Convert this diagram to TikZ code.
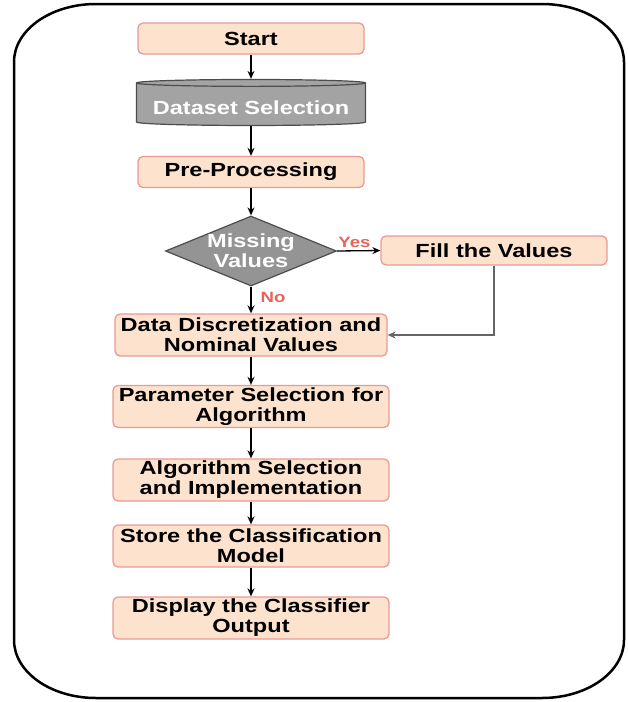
\documentclass[tikz,border=0pt]{standalone}
\usepackage{fontspec}
\setmainfont{Liberation Sans}[FakeStretch=1.24]
\usetikzlibrary{shapes.geometric,arrows.meta}
\definecolor{peach}{HTML}{FDE3CE}
\definecolor{rosy}{HTML}{EA9A96}
\definecolor{drumgray}{HTML}{A3A3A3}
\definecolor{flagred}{HTML}{E8635A}
\tikzset{
  procbox/.style={draw=rosy,fill=peach,line width=1.3pt,rounded corners=5pt,
    align=center,inner sep=0pt,minimum width=276pt,minimum height=42pt,
    font=\bfseries\fontsize{19}{20}\selectfont},
  shortbox/.style={procbox,minimum width=226pt,minimum height=31pt},
  dbdrum/.style={cylinder,shape border rotate=90,aspect=0.035,draw=black!70,
    fill=drumgray,line width=1.2pt,minimum width=229pt,minimum height=46pt,
    inner sep=0pt,text=white,font=\bfseries\fontsize{19}{20}\selectfont},
  decision/.style={diamond,draw=black!70,fill=black!42,line width=1.2pt,
    minimum width=171pt,minimum height=70pt,inner sep=0pt},
  decisiontext/.style={text=white,align=center,inner sep=0pt,
    font=\bfseries\fontsize{19}{20}\selectfont},
  flowarrow/.style={-{Stealth[length=8pt,width=7pt]},line width=1.3pt},
  flag/.style={text=flagred,inner sep=0pt,font=\bfseries\fontsize{15}{16}\selectfont}
}

\begin{document}
\begin{tikzpicture}[x=1pt,y=-1pt]
  \useasboundingbox (0,0) rectangle (628,702);
  \draw[line width=2.5pt] (14,62) arc[start angle=180,end angle=270,x radius=82,y radius=58]
    -- (542,4) arc[start angle=270,end angle=360,x radius=82,y radius=58]
    -- (624,640) arc[start angle=0,end angle=90,x radius=82,y radius=58]
    -- (96,698) arc[start angle=90,end angle=180,x radius=82,y radius=58] -- cycle;

  \node[shortbox] (start) at (251,38.5) {Start};
  \node[dbdrum] (dataset) at (251,104.5) {\raisebox{-3.5pt}[\height][\depth]{Dataset Selection}};
  \node[shortbox] (preproc) at (251,172) {Pre-Processing};
  \node[decision] (missing) at (251,251) {};
  \node[decisiontext] (missingtxt) at (missing) {Missing\\Values};
  \node[shortbox,minimum height=29pt] (fill) at (494,250.5) {Fill the Values};
  \node[procbox,minimum width=272pt] (discret) at (251,335) {Data Discretization and\\Nominal Values};
  \node[procbox] (param) at (251,406.5) {Parameter Selection for\\Algorithm};
  \node[procbox] (algo) at (251,480) {Algorithm Selection\\and Implementation};
  \node[procbox] (store) at (251,546) {Store the Classification\\Model};
  \node[procbox] (display) at (251,618) {Display the Classifier\\Output};

  \draw[flowarrow] (start) -- (dataset);
  \draw[flowarrow] (dataset) -- (preproc);
  \draw[flowarrow] (preproc) -- (missing);
  \draw[flowarrow] (missing.east) -- node[flag,pos=0.4,above=3pt] (yes) {Yes} (fill.west);
  \draw[flowarrow] (missing.south) -- node[flag,pos=0.4,right=9pt] (no) {No} (discret.north);
  \draw[flowarrow,draw=black!60] (fill.south) |- (discret.east);
  \draw[flowarrow] (discret) -- (param);
  \draw[flowarrow] (param) -- (algo);
  \draw[flowarrow] (algo) -- (store);
  \draw[flowarrow] (store) -- (display);
\end{tikzpicture}
\end{document}
